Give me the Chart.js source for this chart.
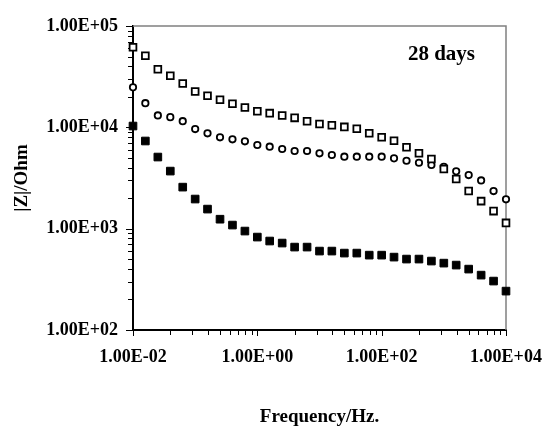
<!DOCTYPE html>
<html>
<head>
<meta charset="utf-8">
<script src="https://cdn.jsdelivr.net/npm/chart.js@4.4.1/dist/chart.umd.min.js"></script>
<style>
html, body { margin: 0; padding: 0; background: #fff; }
#wrap { width: 544px; height: 430px; }
</style>
</head>
<body>
<div id="wrap"><canvas id="chart"></canvas></div>
<script>
// 周波数 (Hz)
const frequency = [0.01, 0.0158, 0.0251, 0.0398, 0.0631, 0.1, 0.158, 0.251, 0.398, 0.631,
    1, 1.58, 2.51, 3.98, 6.31, 10, 15.8, 25.1, 39.8, 63.1,
    100, 158, 251, 398, 631, 1000, 1580, 2510, 3980, 6310, 10000];

// |Z| (Ohm) 白抜き四角
const openSquare = [61600, 50900, 37400, 32300, 27100, 22600, 20500, 18700, 17100, 15700,
    14400, 13800, 13100, 12400, 11500, 10800, 10500, 10100, 9690, 8730,
    7970, 7380, 6350, 5540, 4870, 3880, 3090, 2350, 1870, 1490, 1140];

// |Z| (Ohm) 白抜き丸
const openCircle = [24800, 17300, 13100, 12600, 11500, 9620, 8730, 7970, 7620, 7280,
    6690, 6440, 6110, 5840, 5840, 5540, 5330, 5130, 5130, 5130,
    5130, 4940, 4680, 4470, 4250, 4080, 3680, 3380, 2990, 2350, 1950];

// |Z| (Ohm) 黒四角
const filledSquare = [10300, 7330, 5090, 3700, 2570, 1960, 1560, 1240, 1085, 947,
    826, 755, 721, 658, 658, 601, 601, 574, 574, 548,
    548, 524, 501, 501, 479, 457, 437, 399, 348, 304, 242];

// 目盛り
const xTickValues = [0.01, 1, 100, 10000];
const xTickLabels = ['1.00E-02', '1.00E+00', '1.00E+02', '1.00E+04'];
const yTickValues = [100, 1000, 10000, 100000];
const yTickLabels = ['1.00E+02', '1.00E+03', '1.00E+04', '1.00E+05'];

const serif = "'Liberation Serif', 'Times New Roman', serif";

function toPoints(values) {
    return frequency.map((f, i) => ({ x: f, y: values[i] }));
}

// 枠線・補助目盛り・「28 days」ラベル
const decorPlugin = {
    id: 'decor',
    beforeDatasetsDraw(chart) {
        const { ctx, chartArea: a, scales: { x, y } } = chart;
        ctx.save();
        // 右・上の枠（グレー）
        ctx.strokeStyle = '#808080';
        ctx.lineWidth = 1.5;
        ctx.beginPath();
        ctx.moveTo(a.left, a.top);
        ctx.lineTo(a.right, a.top);
        ctx.lineTo(a.right, a.bottom);
        ctx.stroke();

        ctx.strokeStyle = '#000';
        ctx.lineWidth = 1;
        ctx.beginPath();
        // X軸の目盛り（2桁ごと）
        xTickValues.forEach((v, i) => {
            const px = Math.round(x.getPixelForValue(v)) + 0.5;
            ctx.moveTo(px, a.bottom);
            ctx.lineTo(px, a.bottom + 6);
            if (i < xTickValues.length - 1) {
                for (let k = 2; k <= 9; k++) {
                    const mx = Math.round(x.getPixelForValue(v * k * k)) + 0.5;
                    ctx.moveTo(mx, a.bottom);
                    ctx.lineTo(mx, a.bottom + 5);
                }
            }
        });
        // Y軸の目盛り
        yTickValues.forEach((v, i) => {
            const py = Math.round(y.getPixelForValue(v)) + 0.5;
            ctx.moveTo(a.left - 7, py);
            ctx.lineTo(a.left, py);
            if (i < yTickValues.length - 1) {
                for (let k = 2; k <= 9; k++) {
                    const my = Math.round(y.getPixelForValue(v * k)) + 0.5;
                    ctx.moveTo(a.left - 5, my);
                    ctx.lineTo(a.left, my);
                }
            }
        });
        ctx.stroke();

        // 期間ラベル
        ctx.fillStyle = '#000';
        ctx.font = 'bold 21px ' + serif;
        ctx.textAlign = 'right';
        ctx.textBaseline = 'alphabetic';
        ctx.fillText('28 days', a.right - 31, a.top + 34);
        ctx.restore();
    }
};

Chart.defaults.color = '#000';
Chart.defaults.font.family = serif;

const ctx = document.getElementById('chart').getContext('2d');
new Chart(ctx, {
    type: 'scatter',
    data: {
        datasets: [
            {
                label: 'open square',
                data: toPoints(openSquare),
                pointStyle: 'rect',
                pointRadius: 4.8,
                pointBorderWidth: 1.8,
                pointBackgroundColor: '#fff',
                pointBorderColor: '#000',
                clip: false,
            },
            {
                label: 'open circle',
                data: toPoints(openCircle),
                pointStyle: 'circle',
                pointRadius: 3.2,
                pointBorderWidth: 1.8,
                pointBackgroundColor: '#fff',
                pointBorderColor: '#000',
                clip: false,
            },
            {
                label: 'filled square',
                data: toPoints(filledSquare),
                pointStyle: 'rect',
                pointRadius: 5.4,
                pointBorderWidth: 1,
                pointBackgroundColor: '#000',
                pointBorderColor: '#000',
                clip: false,
            },
        ],
    },
    options: {
        responsive: true,
        maintainAspectRatio: false,
        animation: false,
        events: [],
        layout: { padding: { left: 0, top: 26, right: 38, bottom: 0 } },
        plugins: {
            legend: { display: false },
            tooltip: { enabled: false },
        },
        scales: {
            x: {
                type: 'logarithmic',
                min: 0.01,
                max: 10000,
                afterBuildTicks: (scale) => { scale.ticks = xTickValues.map(v => ({ value: v })); },
                afterFit: (scale) => {
                    scale.height = 100;
                    // ラベルのはみ出し分の余白を無効化
                    scale.paddingLeft = 0;
                    scale.paddingRight = 0;
                },
                grid: { display: false, drawTicks: false },
                border: { display: true, color: '#000', width: 2 },
                ticks: {
                    autoSkip: false,
                    maxRotation: 0,
                    padding: 17,
                    font: { size: 18, weight: 'bold' },
                    callback: (v, i) => xTickLabels[i],
                },
                title: {
                    display: true,
                    text: 'Frequency/Hz.',
                    font: { size: 19, weight: 'bold' },
                    padding: { top: 0, bottom: 2 },
                },
            },
            y: {
                type: 'logarithmic',
                min: 100,
                max: 100000,
                afterBuildTicks: (scale) => { scale.ticks = yTickValues.map(v => ({ value: v })); },
                afterFit: (scale) => {
                    scale.width = 133;
                    scale.paddingTop = 0;
                    scale.paddingBottom = 0;
                },
                grid: { display: false, drawTicks: false },
                border: { display: true, color: '#000', width: 2 },
                ticks: {
                    autoSkip: false,
                    padding: 15,
                    font: { size: 18, weight: 'bold' },
                    callback: (v, i) => yTickLabels[i],
                },
                title: {
                    display: true,
                    text: '|Z|/Ohm',
                    font: { size: 19, weight: 'bold' },
                    padding: { top: 11, bottom: 0 },
                },
            },
        },
    },
    plugins: [decorPlugin],
});
</script>
</body>
</html>
